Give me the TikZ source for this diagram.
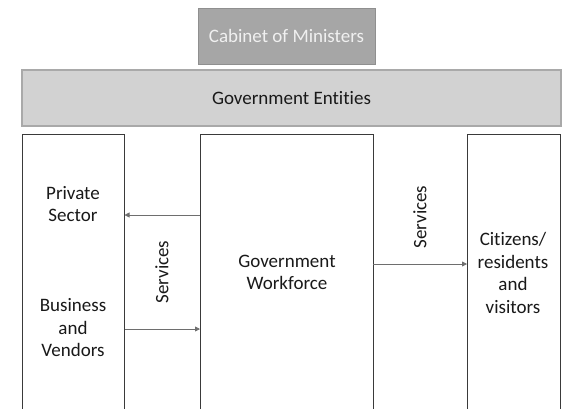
\documentclass[tikz,border=0pt]{standalone}
\usepackage{fontspec}
\setmainfont[Ligatures=NoCommon]{Carlito}
\usetikzlibrary{arrows.meta}
\definecolor{cabfill}{HTML}{A6A6A6}
\definecolor{cabline}{HTML}{8F8F8F}
\definecolor{cabtext}{HTML}{F0F0F0}
\definecolor{entfill}{HTML}{D2D2D2}
\definecolor{entline}{HTML}{A9A9A9}
\definecolor{boxline}{HTML}{3A3A3A}
\definecolor{arrline}{HTML}{6E6E6E}
\begin{document}
\begin{tikzpicture}[x=1bp,y=-1bp,
  every node/.style={font=\fontsize{19bp}{22.5bp}\selectfont, inner sep=0pt},
  lane/.style={draw=boxline, line width=0.9bp, fill=white},
  flow/.style={draw=arrline, line width=0.8bp, -{Triangle[length=5bp,width=5bp]}},
  lbl/.style={align=center, text=black!90}
]
\useasboundingbox (0,0) rectangle (574,408);
\begin{scope}
\clip (0,0) rectangle (574,408);
% top-level bodies
\node[draw=cabline, fill=cabfill, line width=0.9bp, minimum width=177bp, minimum height=56bp, text=cabtext] (cab) at (286.5,36) {Cabinet of Ministers};
\node[draw=entline, fill=entfill, line width=1.2bp, minimum width=539bp, minimum height=56bp, text=black!90] (ent) at (291.5,98) {Government Entities};
% vertical lanes (running off the bottom edge)
\draw[lane] (22,420) -- (22,134) -- (124.5,134) -- (124.5,420);
\draw[lane] (200,420) -- (200,134) -- (373,134) -- (373,420);
\draw[lane] (467,420) -- (467,134) -- (560,134) -- (560,420);
\coordinate (pvR) at (124.5,215);
\coordinate (gwLtop) at (200,215);
\coordinate (bvR) at (124.5,329);
\coordinate (gwLbot) at (200,329);
\coordinate (gwR) at (373,264);
\coordinate (ctL) at (467,264);
\end{scope}
% lane labels
\node[lbl] (pv) at (73,204) {Private\\Sector};
\node[lbl] (bv) at (73,328) {Business\\and\\Vendors};
\node[lbl] (gw) at (287,272.5) {Government\\Workforce};
\node[lbl] (ct) at (513,273) {Citizens/\\residents\\and\\visitors};
% service flows
\draw[flow] (gwLtop) -- (pvR);
\draw[flow] (bvR) -- (gwLbot);
\draw[flow] (gwR) -- (ctL);
\node[lbl, rotate=90] (s1) at (162,272) {Services};
\node[lbl, rotate=90] (s2) at (420,217) {Services};
\end{tikzpicture}
\end{document}
